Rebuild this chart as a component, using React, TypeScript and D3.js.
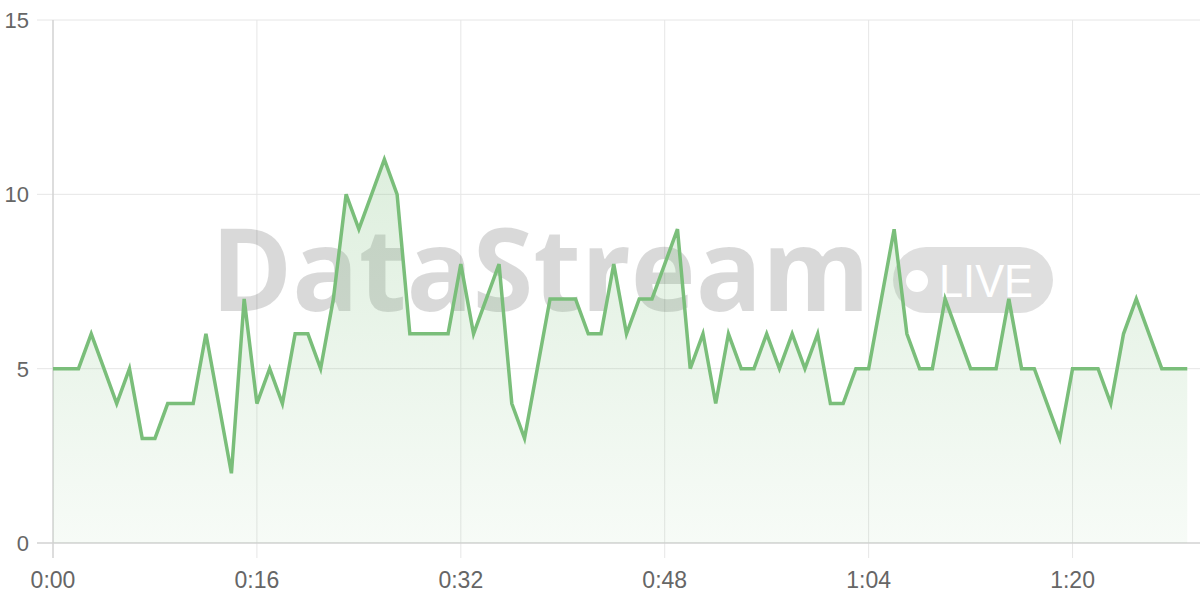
import React, { useRef, useEffect } from 'react';
import * as d3 from 'd3';

// one reading per second, 0:00 .. 1:29
const values = [
  5, 5, 5, 6, 5, 4, 5, 3, 3, 4,
  4, 4, 6, 4, 2, 7, 4, 5, 4, 6,
  6, 5, 7, 10, 9, 10, 11, 10, 6, 6,
  6, 6, 8, 6, 7, 8, 4, 3, 5, 7,
  7, 7, 6, 6, 8, 6, 7, 7, 8, 9,
  5, 6, 4, 6, 5, 5, 6, 5, 6, 5,
  6, 4, 4, 5, 5, 7, 9, 6, 5, 5,
  7, 6, 5, 5, 5, 7, 5, 5, 4, 3,
  5, 5, 5, 4, 6, 7, 6, 5, 5, 5,
];
const xTicks = [0, 16, 32, 48, 64, 80];
const yTicks = [0, 5, 10, 15];
const watermark = 'DataStream';
const badge = 'LIVE';

const fmt = (s: number) => `${Math.floor(s / 60)}:${String(s % 60).padStart(2, '0')}`;

const LiveChart = () => {
  const svgRef = useRef<SVGSVGElement>(null);

  useEffect(() => {
    const width = 1200;
    const height = 600;
    const margin = { top: 20, right: 0, bottom: 57, left: 53 };

    const svg = d3.select(svgRef.current)
      .attr('width', width)
      .attr('height', height);
    svg.selectAll('*').remove();

    const x = d3.scaleLinear().domain([0, 90]).range([margin.left, width - margin.right]);
    const y = d3.scaleLinear().domain([0, 15]).range([height - margin.bottom, margin.top]);
    const green = 'rgb(122,190,122)';
    const font = '"Liberation Sans", Arial, sans-serif';

    const defs = svg.append('defs');
    const grad = defs.append('linearGradient')
      .attr('id', 'areaFill')
      .attr('gradientUnits', 'userSpaceOnUse')
      .attr('x1', 0).attr('x2', 0)
      .attr('y1', y(15)).attr('y2', y(0));
    grad.append('stop').attr('offset', '0%').attr('stop-color', green).attr('stop-opacity', 0.32);
    grad.append('stop').attr('offset', '100%').attr('stop-color', green).attr('stop-opacity', 0.06);

    // grid
    svg.append('g')
      .selectAll('line')
      .data(yTicks.filter(d => d > 0))
      .join('line')
      .attr('x1', x(0) - 16).attr('x2', width)
      .attr('y1', d => y(d)).attr('y2', d => y(d))
      .attr('stroke', '#e6e6e6').attr('stroke-width', 1);
    svg.append('g')
      .selectAll('line')
      .data(xTicks.filter(d => d > 0))
      .join('line')
      .attr('x1', d => x(d)).attr('x2', d => x(d))
      .attr('y1', y(15)).attr('y2', y(0) + 15)
      .attr('stroke', '#e6e6e6').attr('stroke-width', 1);

    // axes lines + ticks
    svg.append('line')
      .attr('x1', x(0) - 16).attr('x2', width)
      .attr('y1', y(0)).attr('y2', y(0))
      .attr('stroke', '#d2d2d2').attr('stroke-width', 1.5);
    svg.append('line')
      .attr('x1', x(0)).attr('x2', x(0))
      .attr('y1', y(15)).attr('y2', y(0) + 15)
      .attr('stroke', '#d2d2d2').attr('stroke-width', 1.5);

    // watermark
    const wm = svg.append('g');
    wm.append('text')
      .attr('x', 211).attr('y', 311)
      .attr('textLength', 659)
      .attr('lengthAdjust', 'spacingAndGlyphs')
      .attr('font-family', '"Open Sans", sans-serif')
      .attr('font-weight', 700)
      .attr('font-size', 114)
      .attr('fill', 'rgba(0,0,0,0.15)')
      .text(watermark);
    wm.append('rect')
      .attr('x', 893).attr('y', 247)
      .attr('width', 160).attr('height', 66)
      .attr('rx', 33)
      .attr('fill', 'rgba(0,0,0,0.125)');
    wm.append('circle')
      .attr('cx', 917).attr('cy', 281).attr('r', 11)
      .attr('fill', '#fff');
    wm.append('text')
      .attr('x', 939).attr('y', 297)
      .attr('textLength', 94)
      .attr('lengthAdjust', 'spacingAndGlyphs')
      .attr('font-family', font)
      .attr('font-size', 46)
      .attr('fill', '#fff')
      .text(badge);

    // area + line
    const area = d3.area<number>()
      .x((d, i) => x(i))
      .y0(y(0))
      .y1(d => y(d));
    const line = d3.line<number>()
      .x((d, i) => x(i))
      .y(d => y(d));

    svg.append('path')
      .datum(values)
      .attr('d', area)
      .attr('fill', 'url(#areaFill)');
    svg.append('path')
      .datum(values)
      .attr('d', line)
      .attr('fill', 'none')
      .attr('stroke', green)
      .attr('stroke-width', 3.5)
      .attr('stroke-linejoin', 'miter');

    // labels
    svg.append('g')
      .selectAll('text')
      .data(yTicks)
      .join('text')
      .attr('x', 29)
      .attr('y', d => y(d))
      .attr('dy', '0.36em')
      .attr('text-anchor', 'end')
      .attr('font-family', font)
      .attr('font-size', 22)
      .attr('fill', '#666')
      .text(d => d);
    svg.append('g')
      .selectAll('text')
      .data(xTicks)
      .join('text')
      .attr('x', d => x(d))
      .attr('y', 580)
      .attr('dy', '0.36em')
      .attr('text-anchor', 'middle')
      .attr('font-family', font)
      .attr('font-size', 23)
      .attr('fill', '#666')
      .text(d => fmt(d));
  }, []);

  return <svg ref={svgRef} style={{ position: 'absolute', left: 0, top: 0 }}></svg>;
};

export default function App() {
  return <LiveChart />;
}
